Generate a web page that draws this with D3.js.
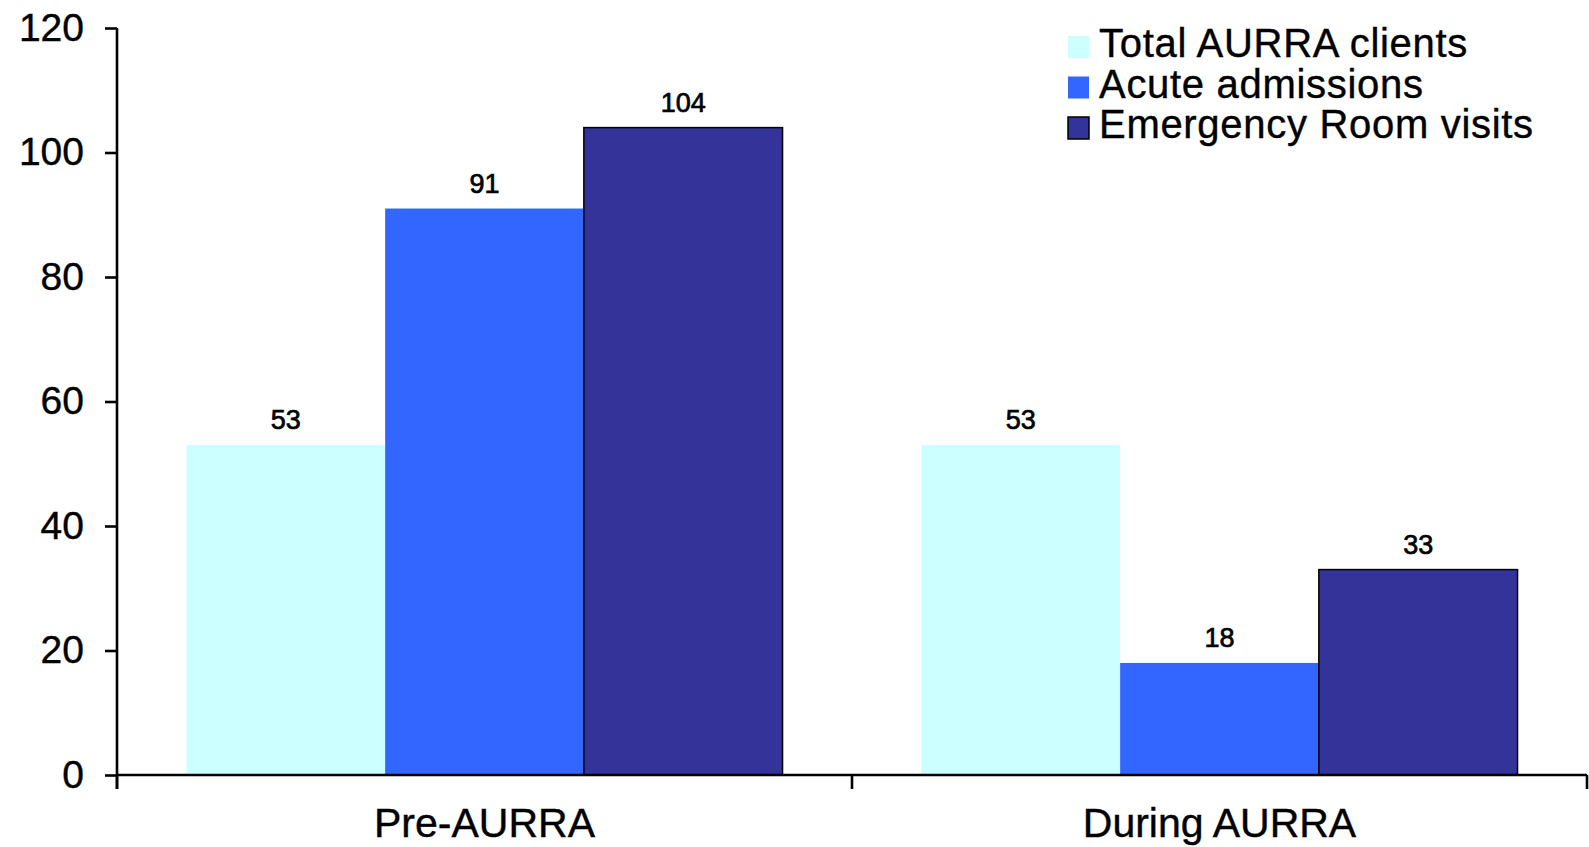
<!DOCTYPE html>
<html>
<head>
<meta charset="utf-8">
<script src="https://cdn.jsdelivr.net/npm/d3@7"></script>
<style>
  body { margin: 0; background: #fff; }
  svg text { font-family: "Liberation Sans", Arial, sans-serif; fill: #000; stroke: #000; stroke-width: 0.4; }
  .axis path, .axis line { stroke: #000; stroke-width: 2.6; }
</style>
</head>
<body>
<div id="chart"></div>
<script>
var categories = ['Pre-AURRA', 'During AURRA'];
var seriesNames = ['Total AURRA clients', 'Acute admissions', 'Emergency Room visits'];
var totalClients = [53, 53];
var acuteAdmissions = [91, 18];
var erVisits = [104, 33];
var yTicks = [0, 20, 40, 60, 80, 100, 120];
var colors = ['#CCFFFF', '#3366FF', '#333399'];

var W = 1589, H = 847;
var padl = 117, padr = 2, padt = 28, padb = 72;

var svg = d3.select('#chart').append('svg').attr('width', W).attr('height', H);

var x0 = d3.scaleBand().domain(categories).range([padl, W - padr]).paddingInner(0.189).paddingOuter(0.0945);
var x1 = d3.scaleBand().domain(seriesNames).range([0, x0.bandwidth()]);
var y = d3.scaleLinear().domain([0, 120]).range([H - padb, padt]);

var rows = categories.map(function(c, i) {
  return { cat: c, vals: [totalClients[i], acuteAdmissions[i], erVisits[i]] };
});

// bars
var groups = svg.selectAll('g.grp').data(rows).enter().append('g')
  .attr('class', 'grp')
  .attr('transform', function(d) { return 'translate(' + x0(d.cat) + ',0)'; });

groups.selectAll('rect').data(function(d) {
  return d.vals.map(function(v, i) { return { name: seriesNames[i], v: v, i: i }; });
}).enter().append('rect')
  .attr('x', function(d) { return x1(d.name); })
  .attr('width', x1.bandwidth())
  .attr('y', function(d) { return y(d.v); })
  .attr('height', function(d) { return y(0) - y(d.v); })
  .attr('fill', function(d) { return colors[d.i]; })
  .attr('stroke', function(d) { return d.i === 2 ? '#000' : 'none'; })
  .attr('stroke-width', 1.5);

groups.selectAll('text.val').data(function(d) {
  return d.vals.map(function(v, i) { return { name: seriesNames[i], v: v }; });
}).enter().append('text')
  .attr('class', 'val')
  .attr('x', function(d) { return x1(d.name) + x1.bandwidth() / 2; })
  .attr('y', function(d) { return y(d.v) - 16; })
  .attr('text-anchor', 'middle')
  .style('font-size', '27px')
  .style('stroke-width', 0.7)
  .text(function(d) { return d.v; });

// y axis
var yAxis = d3.axisLeft(y).tickValues(yTicks).tickSize(12).tickSizeOuter(0).tickPadding(21);
var yax = svg.append('g').attr('class', 'axis').attr('transform', 'translate(' + padl + ',0)').call(yAxis);
yax.selectAll('text').style('font-size', '39px').style('stroke-width', 0.4);
yax.select('.domain').attr('d', 'M0,' + padt + 'V' + (y(0) + 14));

// x axis
var xax = svg.append('g').attr('class', 'axis');
xax.append('line').attr('x1', padl).attr('x2', W - padr).attr('y1', y(0)).attr('y2', y(0));
var bounds = [padl].concat(categories.map(function(c) { return x0(c) - x0.step() * 0.0945 + x0.step(); }));
xax.selectAll('line.tk').data(bounds).enter().append('line')
  .attr('class', 'tk')
  .attr('x1', function(d) { return d; }).attr('x2', function(d) { return d; })
  .attr('y1', y(0)).attr('y2', y(0) + 14);
xax.selectAll('text').data(categories).enter().append('text')
  .attr('x', function(d) { return x0(d) + x0.bandwidth() / 2; })
  .attr('y', y(0) + 62)
  .attr('text-anchor', 'middle')
  .style('font-size', '41px')
  .style('stroke-width', 0.4)
  .text(function(d) { return d; });

// legend
var leg = svg.append('g').attr('transform', 'translate(1068,36)');
var li = leg.selectAll('g').data(seriesNames).enter().append('g')
  .attr('transform', function(d, i) { return 'translate(0,' + (i * 40.5) + ')'; });
li.append('rect').attr('width', 21).attr('height', 22)
  .attr('fill', function(d, i) { return colors[i]; })
  .attr('stroke', function(d, i) { return i === 2 ? '#000' : 'none'; })
  .attr('stroke-width', 1.5);
li.append('text').attr('x', 31).attr('y', 21)
  .style('font-size', '40px')
  .style('letter-spacing', '0.7px')
  .text(function(d) { return d; });
</script>
</body>
</html>
